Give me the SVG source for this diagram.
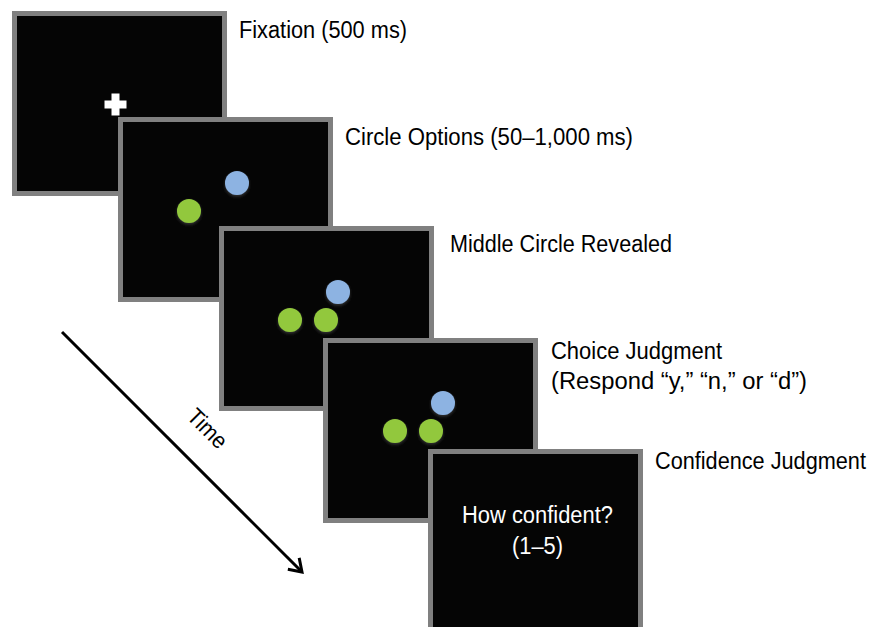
<svg xmlns="http://www.w3.org/2000/svg" width="873" height="627" viewBox="0 0 873 627">
<defs>
<style>
.frame{fill:#050505;stroke:#808080;stroke-width:5}
.lbl{font-family:"Liberation Sans",Arial,sans-serif;font-size:23px;fill:#000}
.in{font-family:"Liberation Sans",Arial,sans-serif;font-size:23px;fill:#fff}
.blue{fill:#8db3e2;filter:url(#sh)}
.green{fill:#92c83e;filter:url(#sh)}
.arrow{stroke:#000;stroke-width:3;fill:none}
</style>
<filter id="sh" x="-50%" y="-50%" width="200%" height="200%">
<feDropShadow dx="0" dy="1.5" stdDeviation="1.5" flood-color="#3a3a3a" flood-opacity="0.9"/>
</filter>
<marker id="ah" viewBox="0 0 20 20" refX="16" refY="10" markerWidth="20" markerHeight="20" markerUnits="userSpaceOnUse" orient="auto">
<polyline points="4,2 16,10 4,18" fill="none" stroke="#000" stroke-width="3"/>
</marker>
</defs>
<rect width="873" height="627" fill="#fff"/>
<g id="connectors">
<line class="arrow" x1="62" y1="332" x2="302" y2="572" marker-end="url(#ah)"/>
<text class="lbl" x="202" y="434" text-anchor="middle" font-size="23" transform="rotate(45 202 434)" textLength="46" lengthAdjust="spacingAndGlyphs">Time</text>
</g>
<g id="fixation">
<rect class="frame" x="14.5" y="13.5" width="210" height="180"/>
<rect x="104.5" y="100.5" width="22" height="8" fill="#fff"/>
<rect x="111.5" y="93.5" width="8" height="22" fill="#fff"/>
<text class="lbl" x="239" y="38" textLength="168" lengthAdjust="spacingAndGlyphs">Fixation (500 ms)</text>
</g>
<g id="circle-options">
<rect class="frame" x="120.5" y="119.5" width="210" height="180"/>
<circle class="blue" cx="237" cy="183" r="12"/>
<circle class="green" cx="189" cy="211" r="12"/>
<text class="lbl" x="345" y="145" textLength="288" lengthAdjust="spacingAndGlyphs">Circle Options (50–1,000 ms)</text>
</g>
<g id="middle-revealed">
<rect class="frame" x="221.5" y="228.5" width="210" height="180"/>
<circle class="blue" cx="338" cy="292" r="12"/>
<circle class="green" cx="290" cy="320" r="12"/>
<circle class="green" cx="326" cy="320" r="12"/>
<text class="lbl" x="450" y="252" textLength="222" lengthAdjust="spacingAndGlyphs">Middle Circle Revealed</text>
</g>
<g id="choice-judgment">
<rect class="frame" x="325.5" y="340.5" width="210" height="180"/>
<circle class="blue" cx="443" cy="403" r="12"/>
<circle class="green" cx="395" cy="431" r="12"/>
<circle class="green" cx="431" cy="431" r="12"/>
<text class="lbl" x="551" y="359" textLength="171" lengthAdjust="spacingAndGlyphs">Choice Judgment</text>
<text class="lbl" x="551" y="389" textLength="256" lengthAdjust="spacingAndGlyphs">(Respond “y,” “n,” or “d”)</text>
</g>
<g id="confidence-judgment">
<rect class="frame" x="430.5" y="451.5" width="210" height="180"/>
<text class="in" x="462" y="523" textLength="151" lengthAdjust="spacingAndGlyphs">How confident?</text>
<text class="in" x="512" y="554" textLength="51" lengthAdjust="spacingAndGlyphs">(1–5)</text>
<text class="lbl" x="0" y="0" transform="translate(655 469) scale(0.943 1)">Confidence Judgment</text>
</g>
</svg>
